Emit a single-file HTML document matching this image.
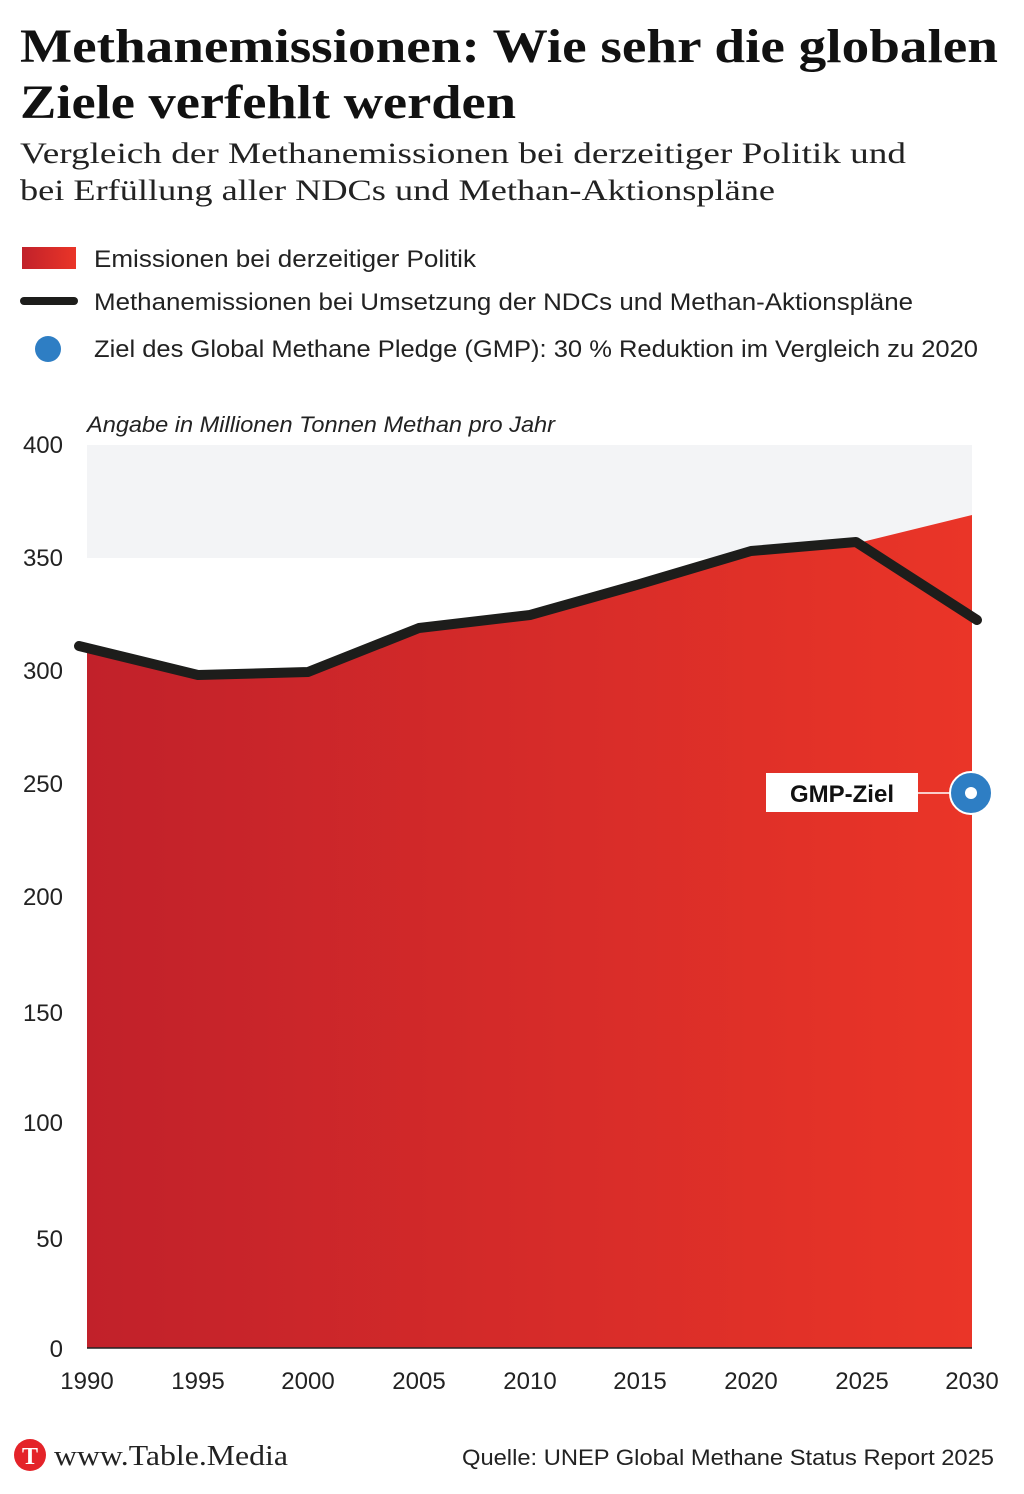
<!DOCTYPE html>
<html><head><meta charset="utf-8"><style>
body{margin:0;width:1024px;height:1489px;background:#fff;overflow:hidden;font-family:"Liberation Sans",sans-serif}
</style></head><body>
<svg width="1024" height="1489" viewBox="0 0 1024 1489" xmlns="http://www.w3.org/2000/svg">
<defs><linearGradient id="g" x1="0" x2="1" y1="0" y2="0"><stop offset="0" stop-color="#c1212a"/><stop offset="1" stop-color="#ea3528"/></linearGradient></defs>
<text x="20" y="62" font-family="Liberation Serif,serif" font-weight="bold" font-size="48" fill="#111" textLength="978" lengthAdjust="spacingAndGlyphs">Methanemissionen: Wie sehr die globalen</text>
<text x="20" y="118" font-family="Liberation Serif,serif" font-weight="bold" font-size="48" fill="#111" textLength="496" lengthAdjust="spacingAndGlyphs">Ziele verfehlt werden</text>
<text x="20" y="163" font-family="Liberation Serif,serif" font-size="30" fill="#222" textLength="886" lengthAdjust="spacingAndGlyphs">Vergleich der Methanemissionen bei derzeitiger Politik und</text>
<text x="20" y="200" font-family="Liberation Serif,serif" font-size="30" fill="#222" textLength="755" lengthAdjust="spacingAndGlyphs">bei Erfüllung aller NDCs und Methan-Aktionspläne</text>
<rect x="22" y="247" width="54" height="22" fill="url(#g)"/>
<text x="94" y="267" font-size="24" fill="#222" textLength="382" lengthAdjust="spacingAndGlyphs">Emissionen bei derzeitiger Politik</text>
<line x1="24" y1="301" x2="74" y2="301" stroke="#1d1d1b" stroke-width="8" stroke-linecap="round"/>
<text x="94" y="310" font-size="24" fill="#222" textLength="819" lengthAdjust="spacingAndGlyphs">Methanemissionen bei Umsetzung der NDCs und Methan-Aktionspläne</text>
<circle cx="48" cy="349" r="13" fill="#2e7ec4"/>
<text x="94" y="357" font-size="24" fill="#222" textLength="884" lengthAdjust="spacingAndGlyphs">Ziel des Global Methane Pledge (GMP): 30 % Reduktion im Vergleich zu 2020</text>
<text x="87" y="432" font-size="22" font-style="italic" fill="#222" textLength="468" lengthAdjust="spacingAndGlyphs">Angabe in Millionen Tonnen Methan pro Jahr</text>
<rect x="87" y="445" width="885" height="113" fill="#f3f4f6"/>
<path d="M87 648 L198 675 L308 672 L419 628 L530 615 L640 584 L751 551 L862 542 L972 515 L972 1348 L87 1348Z" fill="url(#g)"/>
<line x1="87" y1="1348" x2="972" y2="1348" stroke="#222" stroke-width="1.5"/>
<polyline points="79,646 198,675 308,672 419,628 530,615 640,584 751,551 856,542 977,620" fill="none" stroke="#1d1d1b" stroke-width="10" stroke-linecap="round" stroke-linejoin="round"/>
<g font-size="24" fill="#222" text-anchor="end">
<text x="63" y="453">400</text><text x="63" y="566">350</text><text x="63" y="679">300</text><text x="63" y="792">250</text><text x="63" y="905">200</text><text x="63" y="1021">150</text><text x="63" y="1131">100</text><text x="63" y="1247">50</text><text x="63" y="1357">0</text>
</g>
<g font-size="24" fill="#222" text-anchor="middle">
<text x="87" y="1389">1990</text><text x="198" y="1389">1995</text><text x="308" y="1389">2000</text><text x="419" y="1389">2005</text><text x="530" y="1389">2010</text><text x="640" y="1389">2015</text><text x="751" y="1389">2020</text><text x="862" y="1389">2025</text><text x="972" y="1389">2030</text>
</g>
<rect x="766" y="773" width="152" height="39" fill="#fff"/>
<text x="842" y="802" font-size="24" font-weight="bold" text-anchor="middle" fill="#111">GMP-Ziel</text>
<line x1="918" y1="793" x2="972" y2="793" stroke="#fff" stroke-width="1.5"/>
<circle cx="971" cy="793" r="21" fill="#2e7ec4" stroke="#fff" stroke-width="2"/>
<circle cx="971" cy="793" r="6" fill="#fff"/>
<circle cx="30" cy="1455" r="16" fill="#e42329"/>
<text x="30" y="1464" font-family="Liberation Serif,serif" font-weight="bold" font-size="24" fill="#fff" text-anchor="middle">T</text>
<text x="54" y="1465" font-family="Liberation Serif,serif" font-size="28" fill="#222" textLength="234" lengthAdjust="spacingAndGlyphs">www.Table.Media</text>
<text x="462" y="1465" font-size="22" fill="#222" textLength="532" lengthAdjust="spacingAndGlyphs">Quelle: UNEP Global Methane Status Report 2025</text>
</svg>
</body></html>
